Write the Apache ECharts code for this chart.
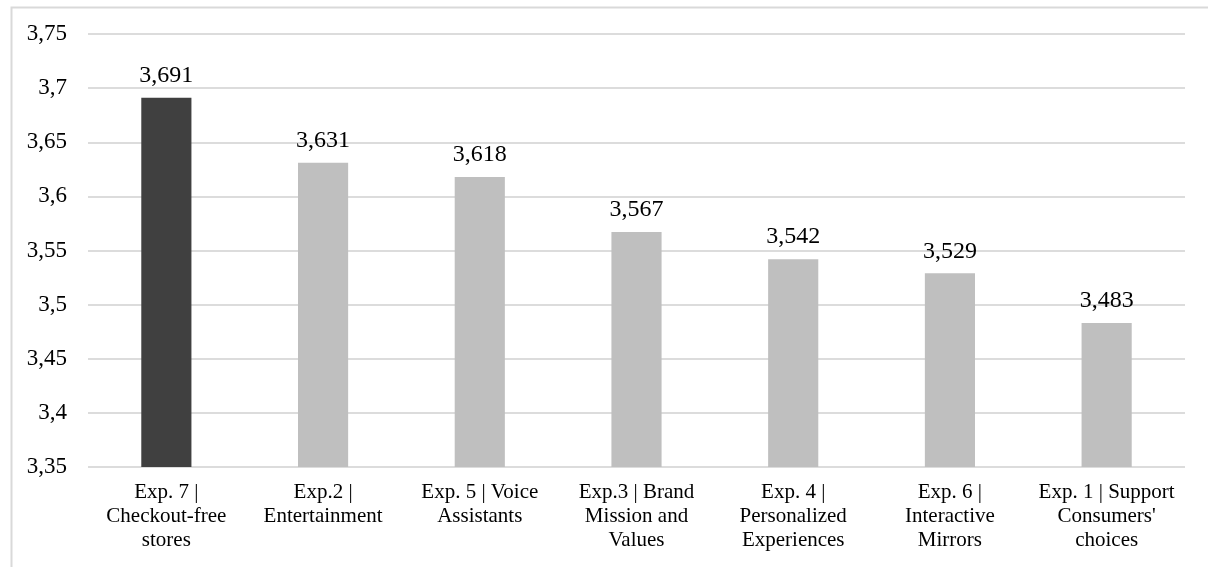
<!DOCTYPE html>
<html>
<head>
<meta charset="utf-8">
<script src="https://cdn.jsdelivr.net/npm/echarts@6/dist/echarts.min.js"></script>
<style>
  html, body { margin: 0; padding: 0; background: #fff; }
  #chart { width: 1208px; height: 567px; }
</style>
</head>
<body>
<div id="chart"></div>
<script>
// Experience categories (x axis)
const categories = [
  "Exp. 7 |\nCheckout-free\nstores",
  "Exp.2 |\nEntertainment",
  "Exp. 5 | Voice\nAssistants",
  "Exp.3 | Brand\nMission and\nValues",
  "Exp. 4 |\nPersonalized\nExperiences",
  "Exp. 6 |\nInteractive\nMirrors",
  "Exp. 1 | Support\nConsumers'\nchoices"
];

// Mean scores per experience
const scores = [3.691, 3.631, 3.618, 3.567, 3.542, 3.529, 3.483];

// Value axis range
const yMin = 3.35;
const yMax = 3.75;
const yStep = 0.05;

const highlightColor = "#404040";
const baseColor = "#bfbfbf";
const fontFamily = "'Liberation Serif', 'Times New Roman', serif";

const chart = echarts.init(document.getElementById("chart"), null, { renderer: "canvas" });

chart.setOption({
  animation: false,
  backgroundColor: "#ffffff",
  textStyle: { fontFamily: fontFamily, color: "#000" },
  graphic: [{
    type: "rect",
    left: 9, top: 5,
    shape: { x: 0, y: 0, width: 1400, height: 800 },
    style: { fill: "none", stroke: "#d9d9d9", lineWidth: 2 },
    silent: true
  }],
  grid: { left: 88, right: 23, top: 34, bottom: 100 },
  xAxis: {
    type: "category",
    data: categories,
    axisLine: { show: false },
    axisTick: { show: false },
    axisLabel: {
      interval: 0,
      margin: 13,
      fontFamily: fontFamily,
      fontSize: 21,
      lineHeight: 24,
      color: "#000"
    }
  },
  yAxis: {
    type: "value",
    min: yMin,
    max: yMax,
    interval: yStep,
    axisLine: { show: false },
    axisTick: { show: false },
    splitLine: { lineStyle: { color: "#dcdcdc", width: 2 } },
    axisLabel: {
      margin: 21,
      fontFamily: fontFamily,
      fontSize: 23,
      color: "#000",
      formatter: v => String(+(+v).toFixed(2)).replace(".", ",")
    }
  },
  series: [{
    type: "bar",
    barWidth: "32%",
    data: scores.map((v, i) => ({
      value: v,
      itemStyle: { color: i === 0 ? highlightColor : baseColor }
    })),
    label: {
      show: true,
      position: "top",
      distance: 10,
      fontFamily: fontFamily,
      fontSize: 24,
      color: "#000",
      formatter: p => p.value.toFixed(3).replace(".", ",")
    }
  }]
});
</script>
</body>
</html>
